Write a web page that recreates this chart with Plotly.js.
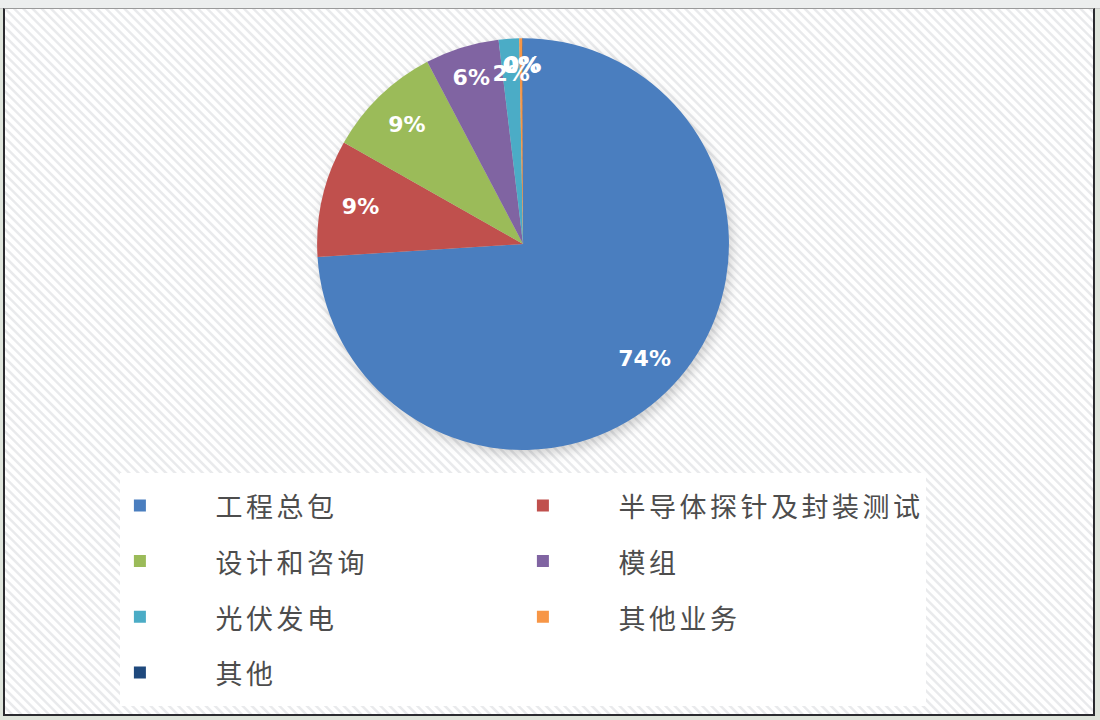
<!DOCTYPE html>
<html>
<head>
<meta charset="utf-8">
<script src="https://cdn.plot.ly/plotly-3.0.1.min.js"></script>
<style>
  html, body { margin: 0; padding: 0; width: 1100px; height: 720px; overflow: hidden; background: #dfe5dc; }
  #topbar { position: absolute; left: 0; top: 0; width: 1100px; height: 8px; background: #eceeee; border-bottom: 1px solid #c8c8c8; }
  #frame { position: absolute; left: 3px; top: 8px; width: 1088px; height: 705px;
           border: 2px solid #2b2b30; border-top: 1px solid #9a9a9a;
           background: repeating-linear-gradient(45deg, #ffffff 0px, #ffffff 3px, #e9eaec 4px, #e9eaec 5.5px, #ffffff 6.5px); }
  #chart { position: absolute; left: 0; top: 0; width: 1100px; height: 720px; }
  g.pielayer > g.trace:first-child { filter: drop-shadow(3px 5px 6px rgba(0,0,0,0.18)); }
</style>
</head>
<body>
<div id="topbar"></div>
<div id="frame"></div>
<div id="chart"></div>
<script>
const categories = ['工程总包', '半导体探针及封装测试', '设计和咨询', '模组', '光伏发电', '其他业务', '其他'];
const shares = [74.0, 9.2, 9.1, 5.8, 1.6, 0.25, 0.05];
const colors = ['#4a7ebf', '#c0504d', '#9bbb59', '#8064a2', '#4bacc6', '#f79646', '#1f497d'];

const pad = '\u3000\u2002\u2006';
const legendLabels = categories.map(c =>
  '<span style="font-size:27px;letter-spacing:3.5px;baseline-shift:4px">' + pad + c + '</span>');

const pct = '%{percent:.0%}';
const bigTemplates = shares.map(v => (v >= 3 ? pct : ''));
const smallTemplates = shares.map(v => (v < 3 ? pct : ''));
const clear = colors.map(() => 'rgba(0,0,0,0)');
const labelFont = { family: 'DejaVu Sans', size: 22, color: '#ffffff', weight: 'bold' };

const base = {
  type: 'pie',
  labels: legendLabels,
  values: shares,
  sort: false,
  direction: 'clockwise',
  rotation: 0,
  hoverinfo: 'none'
};

// slices
const slices = Object.assign({}, base, {
  marker: { colors: colors, line: { width: 0 } },
  textinfo: 'none',
  domain: { x: [0.288, 0.663], y: [0.375, 0.947] }
});

// labels of the larger slices, on a wide ring
const labelsBig = Object.assign({}, base, {
  hole: 0.62,
  showlegend: false,
  marker: { colors: clear, line: { width: 0 } },
  texttemplate: bigTemplates,
  textposition: 'inside',
  insidetextorientation: 'horizontal',
  textfont: labelFont,
  domain: { x: [0.288, 0.663], y: [0.375, 0.947] }
});

// labels of the thin slices, on a narrow ring at about 0.82 of the radius
const labelsSmall = Object.assign({}, base, {
  hole: 0.845,
  showlegend: false,
  marker: { colors: clear, line: { width: 0 } },
  texttemplate: smallTemplates,
  textposition: 'inside',
  insidetextorientation: 'horizontal',
  textfont: labelFont,
  domain: { x: [0.3119, 0.6391], y: [0.4104, 0.9104] }
});

const layout = {
  width: 1100,
  height: 720,
  margin: { l: 0, r: 0, t: 0, b: 0 },
  paper_bgcolor: 'rgba(0,0,0,0)',
  plot_bgcolor: 'rgba(0,0,0,0)',
  showlegend: true,
  uniformtext: { minsize: 22, mode: 'show' },
  legend: {
    orientation: 'h',
    x: 0.109, xanchor: 'left',
    y: 0.3436, yanchor: 'top',
    bgcolor: '#ffffff',
    entrywidth: 358,
    itemwidth: 30,
    font: { family: 'Noto Sans CJK SC', size: 40.5, color: '#4d4d4d' },
    itemclick: false, itemdoubleclick: false
  }
};

Plotly.newPlot('chart', [slices, labelsBig, labelsSmall], layout, { displayModeBar: false, staticPlot: true });
</script>
</body>
</html>
